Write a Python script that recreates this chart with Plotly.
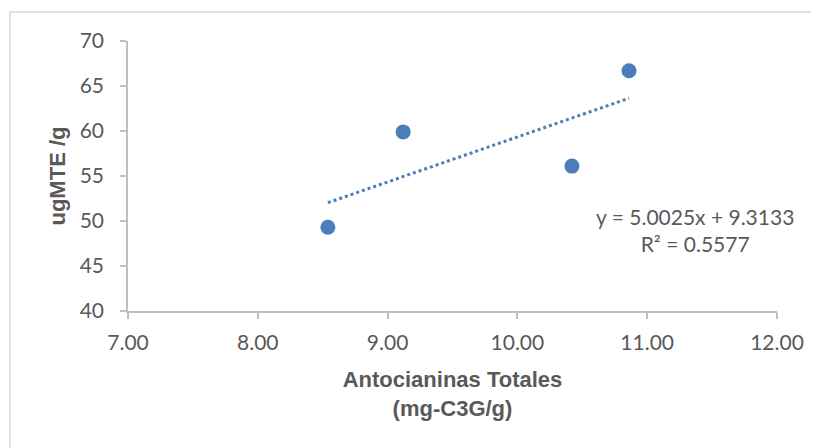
import plotly.graph_objects as go

x_vals = [8.54, 9.12, 10.42, 10.86]
y_vals = [49.3, 59.9, 56.1, 66.7]
slope = 5.0025
intercept = 9.3133
eq_text = "y = 5.0025x + 9.3133<br>R² = 0.5577"

x_ticks = [7, 8, 9, 10, 11, 12]
x_tick_labels = ["7.00", "8.00", "9.00", "10.00", "11.00", "12.00"]
y_ticks = [40, 45, 50, 55, 60, 65, 70]

color = "#4A7EBB"
grey = "#595959"
tick_font = "Lato, Carlito, sans-serif"
title_font = "Liberation Sans, Arial, sans-serif"

trend_x = [min(x_vals), max(x_vals)]
trend_y = [slope * v + intercept for v in trend_x]

fig = go.Figure()
fig.add_trace(go.Scatter(x=trend_x, y=trend_y, mode="lines",
                         line=dict(color=color, width=3, dash="dot"), showlegend=False))
fig.add_trace(go.Scatter(x=x_vals, y=y_vals, mode="markers",
                         marker=dict(color=color, size=15), showlegend=False))

fig.add_annotation(x=11.37, y=48.95, xref="x", yref="y", text=eq_text, showarrow=False,
                   yanchor="middle", xanchor="center",
                   font=dict(family=tick_font, size=21, color=grey), align="center")

# outer chart-area border (page body offsets the figure by 8px)
fig.add_shape(type="rect", xref="paper", yref="paper",
              x0=-118/649, y0=-160/270, x1=1.2, y1=1 + 29/270,
              line=dict(color="#D9D9D9", width=1.5), layer="below")

fig.update_layout(
    width=811, height=440,
    margin=dict(l=120, r=42, t=33, b=137),
    paper_bgcolor="white", plot_bgcolor="white",
    font=dict(family=tick_font, color=grey),
    xaxis=dict(range=[7, 12], tickvals=x_ticks, ticktext=x_tick_labels,
               showgrid=False, zeroline=False, showline=True, linecolor="#BFBFBF", linewidth=1.5,
               ticks="outside", ticklen=6, tickcolor="#BFBFBF", tickwidth=1.5,
               ticklabelstandoff=6,
               tickfont=dict(size=21, color=grey),
               title=dict(text="<b>Antocianinas Totales<br>(mg-C3G/g)</b>",
                          font=dict(family=title_font, size=22, color=grey),
                          standoff=19)),
    yaxis=dict(range=[40, 70], tickvals=y_ticks,
               showgrid=False, zeroline=False, showline=True, linecolor="#BFBFBF", linewidth=1.5,
               ticks="outside", ticklen=6, tickcolor="#BFBFBF", tickwidth=1.5,
               ticklabelstandoff=12,
               tickfont=dict(size=21, color=grey),
               title=dict(text="<b>ugMTE /g</b>",
                          font=dict(family=title_font, size=22, color=grey),
                          standoff=8)),
)

fig.write_html("out.html")
